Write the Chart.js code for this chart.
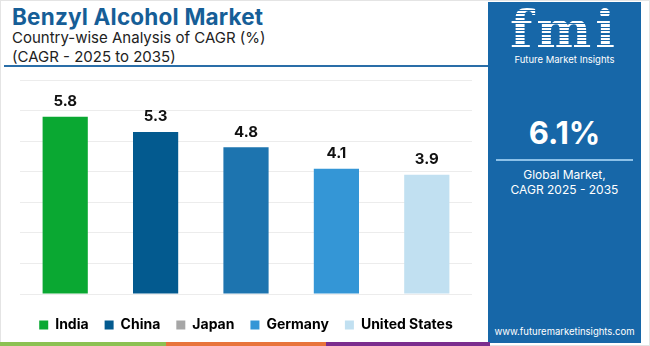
<!DOCTYPE html>
<html>
<head>
<meta charset="utf-8">
<script src="https://cdn.jsdelivr.net/npm/chart.js@4.4.0/dist/chart.umd.min.js"></script>
<style>
  html, body { margin:0; padding:0; }
  body { width:650px; height:346px; position:relative; overflow:hidden; background:#fff; font-family:'Inter', 'Open Sans', sans-serif; }
  .frame { position:absolute; left:0; top:0; width:648px; height:344px; border:1px solid #e4e4e4; }
  .title { position:absolute; left:12px; top:3px; font-size:22.5px; font-weight:700; color:#165e97; letter-spacing:0.2px; }
  .sub { position:absolute; left:12px; font-size:15px; color:#222; }
  .rule { position:absolute; left:4px; top:65px; width:484px; height:2px; background:#2a6ea8; }
  .chartbox { position:absolute; left:0; top:68px; width:487px; height:278px; }
  .panel { position:absolute; left:488px; top:2px; width:153px; height:341px; background:#1767a8; color:#fff; text-align:center; }
  .logo { position:absolute; left:0; width:153px; top:2px; font-family:'DejaVu Serif', serif; font-weight:700; font-size:52px; letter-spacing:4px; line-height:52px;
          background:repeating-linear-gradient(#fff 0 2.2px, #1767a8 2.2px 3.4px); -webkit-background-clip:text; background-clip:text; color:transparent; }
  .brand { position:absolute; left:0; width:153px; top:52px; font-size:9.5px; }
  .big { position:absolute; left:0; width:153px; top:112px; font-size:31px; font-weight:700; }
  .line { position:absolute; left:8px; top:157px; width:137px; height:2px; background:#8cc1e8; }
  .glob { position:absolute; left:0; width:153px; top:165px; font-size:12px; line-height:15px; }
  .url { position:absolute; left:0; width:153px; top:324px; font-size:9.5px; }
  .stripe { position:absolute; top:342px; height:4px; }
</style>
</head>
<body>
<div class="frame"></div>
<div class="title">Benzyl Alcohol Market</div>
<div class="sub" style="top:28px">Country-wise Analysis of CAGR (%)</div>
<div class="sub" style="top:47px">(CAGR - 2025 to 2035)</div>
<div class="rule"></div>
<div class="chartbox"><canvas id="cagrChart" width="487" height="278"></canvas></div>

<div class="panel">
  <div class="logo">fmi</div>
  <div class="brand">Future Market Insights</div>
  <div class="big">6.1%</div>
  <div class="line"></div>
  <div class="glob">Global Market,<br>CAGR 2025 - 2035</div>
  <div class="url">www.futuremarketinsights.com</div>
</div>

<div class="stripe" style="left:0;width:166px;background:#8cc152"></div>
<div class="stripe" style="left:166px;width:160px;background:#e8743b"></div>
<div class="stripe" style="left:326px;width:164px;background:#7b2d8e"></div>

<script>
// ── Data ──────────────────────────────────────────────────
const COUNTRIES = ['India', 'China', 'Japan', 'Germany', 'United States'];
const CAGR      = [5.8, 5.3, 4.8, 4.1, 3.9];

// ── Styles ────────────────────────────────────────────────
const BAR_COLORS    = ['#0aa832', '#035a8f', '#1d74af', '#3496d6', '#c1e0f1'];
const LEGEND_COLORS = ['#0aa832', '#035a8f', '#a6a6a6', '#3496d6', '#c1e0f1'];

// value labels above bars
const barLabels = {
  id: 'barLabels',
  afterDatasetsDraw(chart) {
    const ctx = chart.ctx;
    const meta = chart.getDatasetMeta(0);
    ctx.save();
    ctx.font = "700 15px 'Inter', sans-serif";
    ctx.fillStyle = '#111';
    ctx.textAlign = 'center';
    ctx.textBaseline = 'middle';
    meta.data.forEach((bar, i) => {
      ctx.fillText(CAGR[i].toFixed(1), bar.x, bar.y - 15);
    });
    ctx.restore();
  }
};

new Chart(document.getElementById('cagrChart'), {
  type: 'bar',
  data: {
    labels: COUNTRIES,
    datasets: [{
      label: 'CAGR',
      data: CAGR,
      backgroundColor: BAR_COLORS,
      borderWidth: 0,
      barPercentage: 0.5,
      categoryPercentage: 1.0,
    }]
  },
  options: {
    responsive: false,
    animation: false,
    layout: { padding: { left: 20, right: 15, top: 12, bottom: 4 } },
    plugins: {
      tooltip: { enabled: false },
      legend: {
        position: 'bottom',
        labels: {
          boxWidth: 9, boxHeight: 9, padding: 16,
          color: '#111',
          font: { family: "'Inter', sans-serif", size: 14, weight: '700' },
          generateLabels: () => COUNTRIES.map((c, i) => ({
            text: c, fillStyle: LEGEND_COLORS[i], strokeStyle: LEGEND_COLORS[i], lineWidth: 0, index: i
          }))
        }
      }
    },
    scales: {
      x: { ticks: { display: false }, grid: { display: false }, border: { display: false } },
      y: {
        min: 0, max: 7,
        ticks: { display: false, stepSize: 1 },
        grid: { color: '#ececec', drawTicks: false },
        border: { display: false }
      }
    }
  },
  plugins: [barLabels]
});
</script>
</body>
</html>
